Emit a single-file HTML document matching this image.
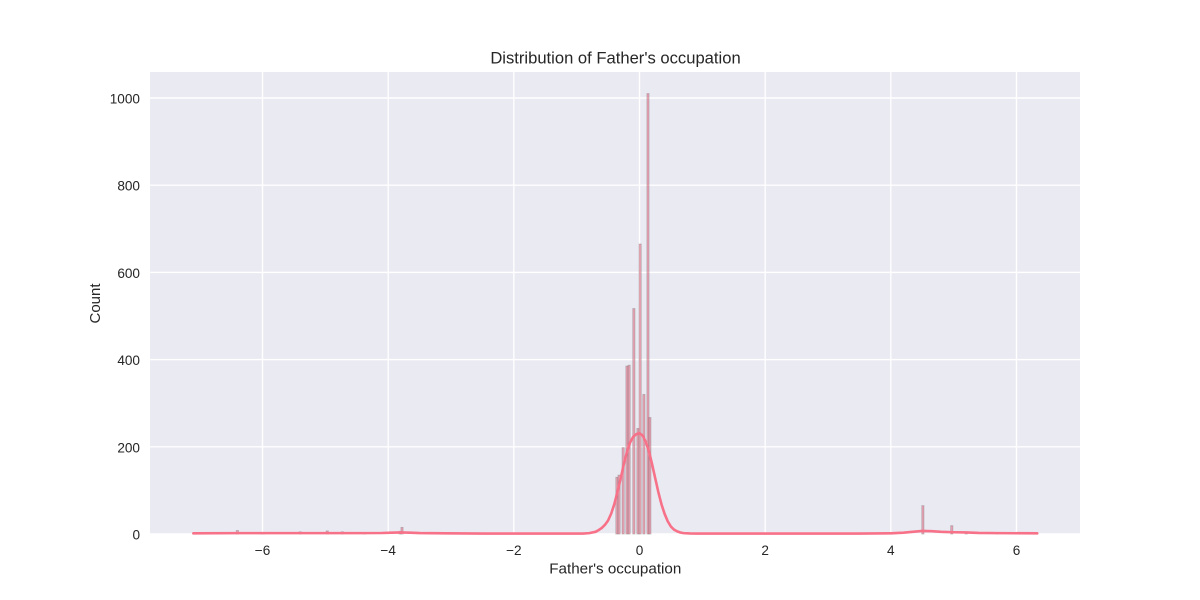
<!DOCTYPE html>
<html>
<head>
<meta charset="utf-8">
<title>Distribution of Father's occupation</title>
<style>
html,body{margin:0;padding:0;background:#fff;width:1200px;height:600px;overflow:hidden}
svg{display:block}
text{font-family:"Liberation Sans",Arial,sans-serif;fill:#262626}
</style>
</head>
<body>
<svg id="chart" xmlns="http://www.w3.org/2000/svg" width="1200" height="600" viewBox="0 0 1200 600">
<rect x="0" y="0" width="1200" height="600" fill="#ffffff"/>
<rect x="150" y="72" width="930" height="462" fill="#EAEAF2"/>
<g id="grid"></g>
<g id="bars"></g>
<g id="kde"></g>
<g id="xticks"></g>
<g id="yticks"></g>
<text x="615.5" y="63.5" text-anchor="middle" font-size="16.6">Distribution of Father's occupation</text>
<text x="615.3" y="573.5" text-anchor="middle" font-size="15.2">Father's occupation</text>
<text transform="translate(100,303.5) rotate(-90)" text-anchor="middle" font-size="15">Count</text>
</svg>
<script>
var xTickValues = [-6, -4, -2, 0, 2, 4, 6];
var yTickValues = [0, 200, 400, 600, 800, 1000];
var binCenters = [-6.4, -6.03, -5.98, -5.4, -4.97, -4.73, -4.38, -3.81, -3.78,
  -0.36, -0.325, -0.26, -0.2, -0.165, -0.09, -0.025, 0.01, 0.07, 0.135, 0.165,
  4.51, 4.97, 5.2, 5.69, 6.0, 6.12];
var binCounts = [8, 3, 3, 5, 7, 5, 3, 6, 15,
  130, 135, 198, 385, 387, 517, 242, 665, 320, 1010, 267,
  65, 19, 4, 3, 2, 2];
var kdeX = [-7.1, -6.4, -5.8, -5.0, -4.5, -4.1, -3.95, -3.8, -3.65, -3.5, -3.1, -2.5, -2, -1.5, -1.1, -0.9, -0.8, -0.7, -0.65, -0.6, -0.55, -0.5, -0.45, -0.4, -0.35, -0.3, -0.25, -0.2, -0.15, -0.1, -0.05, 0, 0.05, 0.1, 0.15, 0.2, 0.25, 0.3, 0.35, 0.4, 0.45, 0.5, 0.55, 0.6, 0.65, 0.7, 0.8, 0.9, 1.5, 2.5, 3.5, 4.0, 4.2, 4.35, 4.5, 4.65, 4.8, 5.0, 5.2, 5.4, 5.7, 6.33];
var kdeY = [1.5, 2, 2, 2, 2, 2.3, 3, 3.6, 3, 2.2, 1.5, 1, 1, 1, 1, 1, 2, 5, 9, 14, 21, 31, 47, 69, 97, 127, 160, 188, 210, 223, 229, 231, 226, 211, 190, 160, 128, 96, 68, 46, 29, 17, 10, 6, 3.5, 2, 1.2, 1, 1, 1, 1, 1.5, 3, 5, 7, 6.5, 5, 4, 3.5, 2.5, 2, 1.5];

var NS = 'http://www.w3.org/2000/svg';
var plotLeft = 150, plotRight = 1080, plotTop = 72, plotBottom = 534;
var binWidth = 0.0335;
function sx(v) { return 639.5 + v * 62.83; }
function sy(v) { return 534 - v * 0.436; }
function make(tag, attrs, parent) {
  var el = document.createElementNS(NS, tag);
  for (var k in attrs) el.setAttribute(k, attrs[k]);
  parent.appendChild(el);
  return el;
}
var grid = document.getElementById('grid');
var xt = document.getElementById('xticks');
var yt = document.getElementById('yticks');
xTickValues.forEach(function (v) {
  var line = make('line', {x1: sx(v), x2: sx(v), y1: plotTop, y2: plotBottom, stroke: '#fff', 'stroke-width': 1.4}, grid);
  
  
  var t = make('text', {x: sx(v), y: 555, 'text-anchor': 'middle', 'font-size': 13.6}, xt);
  
  
  t.textContent = String(v).replace('-', '\u2212');
});
yTickValues.forEach(function (v) {
  var line = make('line', {x1: plotLeft, x2: plotRight, y1: sy(v), y2: sy(v), stroke: '#fff', 'stroke-width': 1.4}, grid);
  
  
  var t = make('text', {x: 140, y: sy(v) + 5.5, 'text-anchor': 'end', 'font-size': 13.6}, yt);
  
  
  t.textContent = String(v);
});
var bars = document.getElementById('bars');
binCenters.forEach(function (c, i) {
  var x0 = sx(c - binWidth / 2), x1 = sx(c + binWidth / 2);
  var b = make('rect', {x: x0, y: sy(binCounts[i]), width: x1 - x0, height: plotBottom - sy(binCounts[i]),
    fill: 'rgba(240,100,125,0.5)', stroke: 'rgba(60,60,60,0.25)', 'stroke-width': 1}, bars);
  
  
});
var kde = document.getElementById('kde');
var pts = kdeX.map(function (x, i) { return sx(x).toFixed(2) + ',' + sy(kdeY[i]).toFixed(2); }).join(' ');
var line = make('polyline', {points: pts, fill: 'none', stroke: '#F77189', 'stroke-width': 2.6, 'stroke-linejoin': 'round', 'stroke-linecap': 'round'}, kde);


</script>
</body>
</html>
